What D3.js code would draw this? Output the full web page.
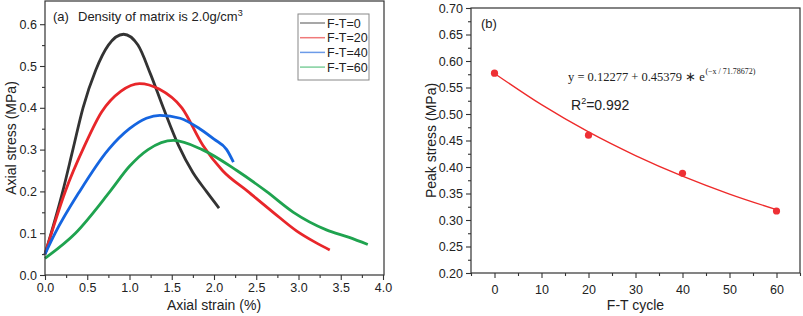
<!DOCTYPE html>
<html>
<head>
<meta charset="utf-8">
<script src="https://cdn.jsdelivr.net/npm/d3@7"></script>
<style>
  body { margin: 0; background: #fff; }
  text { font-family: "Liberation Sans", Arial, sans-serif; fill: #222; }
</style>
</head>
<body>
<div id="container"></div>
<script>
// ---- data ----
let series = ['F-T=0', 'F-T=20', 'F-T=40', 'F-T=60'],
  colors = ['#333333', '#e8262a', '#1565e0', '#1fa34f'],
  legendColors = ['#8a8a8a', '#f07a7a', '#6c9be8', '#7fcf9c']

// strain (%) , stress (MPa) key points of each curve
let strain0 = [0, 0.21, 0.33, 0.45, 0.6, 0.75, 0.93, 1.1, 1.25, 1.4, 1.58, 1.75, 1.91, 2.06],
  stress0 = [0.05, 0.2, 0.3, 0.4, 0.49, 0.55, 0.576, 0.55, 0.48, 0.4, 0.31, 0.245, 0.2, 0.16]
let strain20 = [0, 0.24, 0.47, 0.67, 0.9, 1.12, 1.35, 1.62, 1.87, 2.1, 2.4, 2.7, 2.98, 3.2, 3.37],
  stress20 = [0.05, 0.2, 0.31, 0.39, 0.44, 0.458, 0.445, 0.4, 0.31, 0.25, 0.2, 0.15, 0.105, 0.078, 0.06]
let strain40 = [0, 0.12, 0.41, 0.75, 1.0, 1.2, 1.36, 1.6, 1.83, 2.0, 2.15, 2.23],
  stress40 = [0.05, 0.1, 0.2, 0.3, 0.35, 0.375, 0.382, 0.375, 0.35, 0.325, 0.3, 0.27]
let strain60 = [0, 0.36, 0.77, 1.0, 1.22, 1.52, 1.86, 2.27, 2.62, 2.94, 3.33, 3.6, 3.82],
  stress60 = [0.04, 0.1, 0.2, 0.26, 0.3, 0.322, 0.3, 0.25, 0.2, 0.15, 0.108, 0.09, 0.073]
let strains = [strain0, strain20, strain40, strain60],
  stresses = [stress0, stress20, stress40, stress60]

// panel (b): peak stress vs F-T cycle, and the fitted curve
let cycles = [0, 20, 40, 60],
  peaks = [0.577, 0.460, 0.388, 0.317]
let fitX = [0, 10, 20, 30, 40, 50, 60],
  fitY = [0.5766, 0.5176, 0.4662, 0.4216, 0.3827, 0.3489, 0.3195]

let strainTicks = [0, 0.5, 1, 1.5, 2, 2.5, 3, 3.5, 4],
  stressTicks = [0, 0.1, 0.2, 0.3, 0.4, 0.5, 0.6],
  cycleTicks = [0, 10, 20, 30, 40, 50, 60],
  peakTicks = [0.2, 0.25, 0.3, 0.35, 0.4, 0.45, 0.5, 0.55, 0.6, 0.65, 0.7]

let svg = d3.select('#container')
  .append('svg')
  .attr('width', 803)
  .attr('height', 316)

function frame(g, w, h) {
  g.append('rect')
    .attr('width', w).attr('height', h)
    .attr('fill', 'none')
    .attr('stroke', '#333')
    .attr('stroke-width', 1.2)
}

function styleAxis(a) {
  a.select('.domain').remove()
  a.selectAll('line').attr('stroke', '#333').attr('stroke-width', 1.1)
  a.selectAll('text').style('font-size', '12.5px').attr('fill', '#222')
    .style('font-family', '"Liberation Sans", Arial, sans-serif')
}

// ===== panel (a) =====
let pa = { left: 45, top: 1, w: 339, h: 274 }
let ga = svg.append('g').attr('transform', 'translate(' + pa.left + ',' + pa.top + ')')

let xa = d3.scaleLinear().domain([0, 4]).range([0, 338])
let ya = d3.scaleLinear().domain([0, 0.6]).range([pa.h, pa.h - 0.6 * 418])

// minor ticks
ga.append('g').attr('transform', 'translate(0,' + pa.h + ')')
  .call(d3.axisBottom(xa).tickValues(d3.range(0.25, 4, 0.5)).tickSize(3).tickFormat(''))
  .call(styleAxis)
ga.append('g')
  .call(d3.axisLeft(ya).tickValues(d3.range(0.05, 0.65, 0.1)).tickSize(3).tickFormat(''))
  .call(styleAxis)
ga.append('g').attr('transform', 'translate(0,' + pa.h + ')')
  .call(d3.axisBottom(xa).tickValues(strainTicks).tickSize(5).tickPadding(3).tickFormat(d3.format('.1f')))
  .call(styleAxis)
ga.append('g')
  .call(d3.axisLeft(ya).tickValues(stressTicks).tickSize(5).tickPadding(3).tickFormat(d3.format('.1f')))
  .call(styleAxis)

let lineA = d3.line()
  .x(d => xa(d[0]))
  .y(d => ya(d[1]))
  .curve(d3.curveMonotoneX)

series.forEach(function (s, i) {
  let pts = strains[i].map((v, j) => [v, stresses[i][j]])
  ga.append('path')
    .attr('d', lineA(pts))
    .attr('fill', 'none')
    .attr('stroke', colors[i])
    .attr('stroke-width', 2.8)
    .attr('stroke-linejoin', 'round')
})

frame(ga, pa.w, pa.h)

ga.append('text').attr('x', 8).attr('y', 20)
  .style('font-size', '13px').text('(a)')
let dens = ga.append('text').attr('x', 33).attr('y', 20).style('font-size', '13px')
dens.append('tspan').text('Density of matrix is 2.0g/cm')
dens.append('tspan').attr('dy', -5).style('font-size', '9px').text('3')

// legend
let lg = ga.append('g').attr('transform', 'translate(253,13)')
lg.append('rect').attr('width', 71).attr('height', 66)
  .attr('fill', '#fff').attr('stroke', '#888').attr('stroke-width', 1)
series.forEach(function (s, i) {
  let yy = 9 + i * 14.7
  lg.append('line').attr('x1', 2).attr('x2', 27).attr('y1', yy).attr('y2', yy)
    .attr('stroke', legendColors[i]).attr('stroke-width', 1.5)
  lg.append('text').attr('x', 29).attr('y', yy + 4.5)
    .style('font-size', '12.5px').text(s)
})

svg.append('text')
  .attr('transform', 'translate(16,' + (pa.top + pa.h / 2) + ') rotate(-90)')
  .attr('text-anchor', 'middle').style('font-size', '14px')
  .text('Axial stress (MPa)')
svg.append('text')
  .attr('x', pa.left + xa(2)).attr('y', 310)
  .attr('text-anchor', 'middle').style('font-size', '14px')
  .text('Axial strain (%)')

// ===== panel (b) =====
let pb = { left: 471, top: 8, w: 329, h: 265 }
let gb = svg.append('g').attr('transform', 'translate(' + pb.left + ',' + pb.top + ')')

let xb = d3.scaleLinear().domain([-5, 65]).range([0, pb.w])
let yb = d3.scaleLinear().domain([0.2, 0.7]).range([pb.h, 0])

gb.append('g').attr('transform', 'translate(0,' + pb.h + ')')
  .call(d3.axisBottom(xb).tickValues(d3.range(-5, 66, 10)).tickSize(3).tickFormat(''))
  .call(styleAxis)
gb.append('g')
  .call(d3.axisLeft(yb).tickValues(d3.range(0.225, 0.7, 0.05)).tickSize(3).tickFormat(''))
  .call(styleAxis)
gb.append('g').attr('transform', 'translate(0,' + pb.h + ')')
  .call(d3.axisBottom(xb).tickValues(cycleTicks).tickSize(5).tickPadding(7).tickFormat(d3.format('d')))
  .call(styleAxis)
gb.append('g')
  .call(d3.axisLeft(yb).tickValues(peakTicks).tickSize(5).tickPadding(3).tickFormat(d3.format('.2f')))
  .call(styleAxis)

let lineB = d3.line()
  .x((d, i) => xb(d))
  .y((d, i) => yb(fitY[i]))
  .curve(d3.curveMonotoneX)
gb.append('path')
  .attr('d', lineB(fitX))
  .attr('fill', 'none')
  .attr('stroke', '#ee2a2a')
  .attr('stroke-width', 1.3)

gb.selectAll('circle.pt')
  .data(cycles).enter().append('circle')
  .attr('class', 'pt')
  .attr('cx', d => xb(d))
  .attr('cy', (d, i) => yb(peaks[i]))
  .attr('r', 3.6)
  .attr('fill', '#ee3035')

frame(gb, pb.w, pb.h)

gb.append('text').attr('x', 10).attr('y', 20)
  .style('font-size', '13px').text('(b)')

// fitted equation: main part and exponent as two texts
let eq = gb.append('text').attr('x', 97).attr('y', 73)
  .style('font-family', '"Liberation Serif", "Times New Roman", serif')
  .style('font-size', '12.5px')
  .text('y = 0.12277 + 0.45379 \u2217 e')
let eqEnd = 97 + eq.node().getComputedTextLength()
gb.append('text').attr('x', eqEnd + 0.5).attr('y', 66)
  .style('font-family', '"Liberation Serif", "Times New Roman", serif')
  .style('font-size', '8px')
  .text('(\u2212x / 71.78672)')

let r2 = gb.append('text').attr('x', 100).attr('y', 102).style('font-size', '14px')
r2.append('tspan').text('R')
r2.append('tspan').attr('dy', -6).style('font-size', '9px').text('2')
r2.append('tspan').attr('dy', 6).text('=0.992')

svg.append('text')
  .attr('transform', 'translate(436,' + (pb.top + pb.h / 2) + ') rotate(-90)')
  .attr('text-anchor', 'middle').style('font-size', '14px')
  .text('Peak stress (MPa)')
svg.append('text')
  .attr('x', pb.left + xb(30)).attr('y', 310)
  .attr('text-anchor', 'middle').style('font-size', '14px')
  .text('F-T cycle')
</script>
</body>
</html>
